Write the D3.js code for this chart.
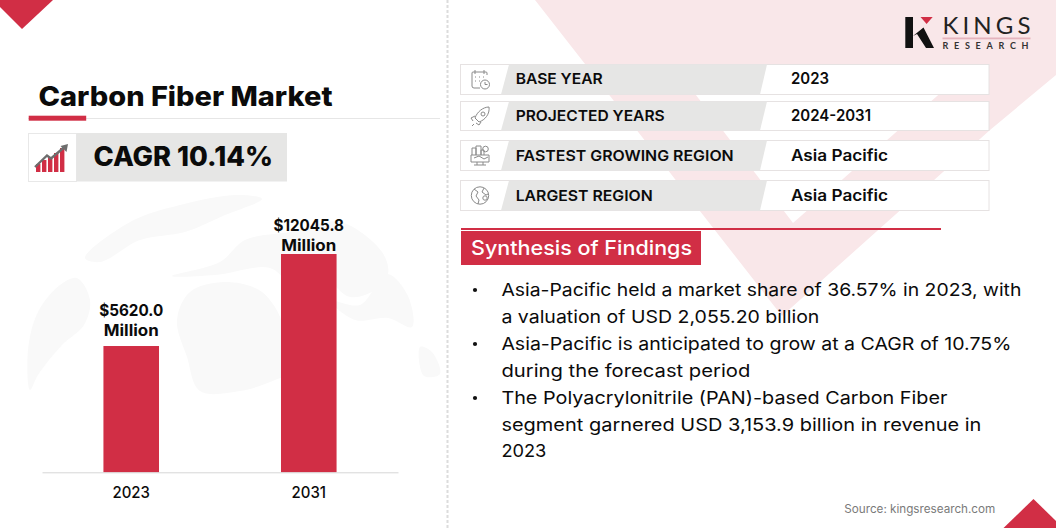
<!DOCTYPE html>
<html><head><meta charset="utf-8">
<script src="https://cdnjs.cloudflare.com/ajax/libs/d3/7.8.5/d3.min.js"></script>
<style>
html,body{margin:0;padding:0;background:#fff;overflow:hidden}
svg{display:block}
text{font-family:Inter,"Open Sans",sans-serif;fill:#0b0b0b}
</style></head><body>
<script>
// ---- Chart data ----
const years = ["2023", "2031"];
const marketValues = [5620.0, 12045.8];
const valueLabels = ["$5620.0", "$12045.8"];
const valueUnit = "Million";
// The reference's bars are not proportional to zero; this lower bound reproduces its heights.
const valueDomain = [-3199, 12045.8];

// ---- Text content ----
const title = "Carbon Fiber Market";
const cagr = "CAGR 10.14%";
const rowLabels = ["BASE YEAR", "PROJECTED YEARS", "FASTEST GROWING REGION", "LARGEST REGION"];
const rowValues = ["2023", "2024-2031", "Asia Pacific", "Asia Pacific"];
const findingsTitle = "Synthesis of Findings";
const findingLines = [
  "Asia-Pacific held a market share of 36.57% in 2023, with",
  "a valuation of USD 2,055.20 billion",
  "Asia-Pacific is anticipated to grow at a CAGR of 10.75%",
  "during the forecast period",
  "The Polyacrylonitrile (PAN)-based Carbon Fiber",
  "segment garnered USD 3,153.9 billion in revenue in",
  "2023"
];
const source = "Source: kingsresearch.com";

// ---- Layout ----
const W = 1056, H = 528, RED = "#d12e45", GRAY = "#e6e6e5", PINK = "#f9e7e9";
const rowLabelWidths = [87, 149, 218, 137];
const rowValueWidths = [38, 80, 97, 97];
const rowTops = [64.5, 101.5, 140.5, 180.5];
const rowHeights = [30, 29, 30, 30];
const findingWidths = [520, 318, 510, 249, 446, 480, 45];
const findingBaselines = [296, 323, 350, 377, 404, 431, 457];
const bulletLines = [0, 2, 4];
const labelLift = [[30, 9.7], [23, 3]];
const labelWidths = [64, 70.5];

const svg = d3.select("body").append("svg").attr("width", W).attr("height", H).attr("viewBox", `0 0 ${W} ${H}`);
const poly = (g, pts, fill) => g.append("polygon").attr("points", pts.map(p => p.join(",")).join(" ")).attr("fill", fill);
function label(g, str, x, y, size, weight, width, opts = {}) {
  const t = g.append("text").attr("x", x).attr("y", y).attr("font-size", size).attr("font-weight", weight).text(str);
  if (width) t.attr("textLength", width).attr("lengthAdjust", opts.adjust || "spacingAndGlyphs");
  if (opts.anchor) t.attr("text-anchor", opts.anchor);
  if (opts.fill) t.style("fill", opts.fill);
  if (opts.family) t.style("font-family", opts.family);
  return t;
}

// ---- Background ----
const bg = svg.append("g");
poly(bg, [[535,0],[1056,0],[1056,75],[990,130],[782,316]], PINK);
poly(bg, [[680,74],[793,223],[962,74]], "#fff");
poly(bg, [[0,0],[53,0],[22,29],[0,7]], RED);
poly(bg, [[1003.5,528],[1033.5,499],[1056,521],[1056,528]], RED);
bg.append("line").attr("x1",447.5).attr("x2",447.5).attr("y1",0).attr("y2",H)
  .attr("stroke","#dcdcdc").attr("stroke-width",2).attr("stroke-dasharray","3 2");

// faint world map behind the chart
const mapShapes = [
  [[30,390],[28,350],[38,312],[60,285],[77,278],[90,300],[84,325],[62,345],[38,375]],
  [[85,258],[130,222],[180,205],[237,195],[262,199],[225,215],[185,232],[140,240],[100,262]],
  [[172,276],[220,262],[245,240],[290,232],[340,222],[382,252],[388,274],[375,290],[350,297],[325,280],[296,288],[270,268],[215,275]],
  [[187,357],[177,320],[190,292],[225,282],[262,292],[283,325],[282,346],[297,368],[275,380],[240,391],[200,391]],
  [[330,300],[360,305],[387,274],[408,296],[412,327],[388,318],[355,320]],
  [[420,347],[432,352],[440,374],[424,376]]
];
const mapG = svg.append("g");
mapShapes.forEach(s => mapG.append("path").attr("d", d3.line().curve(d3.curveCatmullRomClosed.alpha(.5))(s)).attr("fill", "#f9f9f9"));

// ---- Left: title and CAGR ----
const left = svg.append("g");
label(left, title, 38.5, 106, 27, 800, 294);
left.append("line").attr("x1",28).attr("x2",440).attr("y1",118.5).attr("y2",118.5).attr("stroke","#e6e6e6");
left.append("rect").attr("x",28.7).attr("y",115.7).attr("width",57.5).attr("height",5).attr("fill",RED);
left.append("rect").attr("x",28.5).attr("y",133.5).attr("width",48).attr("height",48).attr("fill","#fff").attr("stroke","#e8e8e8");
left.append("rect").attr("x",76.5).attr("y",133).attr("width",210.5).attr("height",48.5).attr("fill",GRAY);
label(left, cagr, 93.5, 165.5, 26.5, 800, 179.5);
// CAGR icon
[8,12,15,19,24].forEach((h,i) =>
  left.append("rect").attr("x",36+i*6).attr("y",172-h).attr("width",4.4).attr("height",h).attr("fill",RED));
left.append("path").attr("d","M35 167 L47 155.5 L51 158.5 L64.5 147").attr("fill","none").attr("stroke","#6d6d6d").attr("stroke-width",2.4);
poly(left, [[68,144],[66.5,152],[60.5,146]], "#6d6d6d");

// ---- Bar chart (drawn through D3 scales and axis) ----
const axisLeft = 42, axisRight = 398, axisY = 472.3, barTop = 254;
const x = d3.scaleBand().domain(years).range([axisLeft, axisRight]).paddingInner(.687).paddingOuter(.346);
const y = d3.scaleLinear().domain(valueDomain).range([axisY, barTop]);
const zero = y(valueDomain[0]);
const chart = svg.append("g");
chart.selectAll("rect.bar").data(years).join("rect").attr("class","bar")
  .attr("x", d => x(d)).attr("width", x.bandwidth())
  .attr("y", (d,i) => y(marketValues[i])).attr("height", (d,i) => zero - y(marketValues[i]))
  .attr("fill", RED);
const axis = chart.append("g").attr("transform", `translate(0,${axisY})`)
  .call(d3.axisBottom(x).tickSize(0).tickPadding(15));
axis.select(".domain").attr("stroke","#d6d6d6").attr("stroke-width",1);
axis.selectAll("text").attr("font-size",15.5).attr("font-weight",500).style("font-family","Inter,sans-serif")
  .attr("textLength",(d,i)=>[37.5,34.5][i]).attr("lengthAdjust","spacingAndGlyphs");
const labelsG = chart.selectAll("g.val").data(years).join("g").attr("class","val");
labelsG.append("text").attr("text-anchor","middle").attr("font-size",16).attr("font-weight",700)
  .attr("x", d => x(d)+x.bandwidth()/2).attr("y", (d,i) => y(marketValues[i]) - labelLift[i][0])
  .attr("textLength",(d,i)=>labelWidths[i]).attr("lengthAdjust","spacingAndGlyphs")
  .text((d,i) => valueLabels[i]);
labelsG.append("text").attr("text-anchor","middle").attr("font-size",16).attr("font-weight",700)
  .attr("x", d => x(d)+x.bandwidth()/2).attr("y", (d,i) => y(marketValues[i]) - labelLift[i][1])
  .attr("textLength",55).attr("lengthAdjust","spacingAndGlyphs")
  .text(valueUnit);

// ---- Logo ----
const logo = svg.append("g");
logo.append("rect").attr("x",905.3).attr("y",17).attr("width",7.7).attr("height",31).attr("fill","#111");
poly(logo, [[913,36],[923.5,27.5],[934,48],[926,48],[917,34]], "#111");
poly(logo, [[920.5,17],[932.7,17],[926.6,24]], RED);
label(logo, "KINGS", 942.5, 34.3, 24, 400, 88, {family:"Lato,sans-serif", fill:"#222", adjust:"spacing"});
logo.append("rect").attr("x",942.5).attr("y",37.5).attr("width",88).attr("height",1.8).attr("fill","#e5b4bd");
label(logo, "RESEARCH", 942.5, 48.6, 9, 700, 86, {family:"Lato,sans-serif", fill:"#333", adjust:"spacing"});

// ---- Info rows ----
const rows = svg.append("g");
rowLabels.forEach((lab, i) => {
  const t = rowTops[i], h = rowHeights[i];
  rows.append("rect").attr("x",460.5).attr("y",t).attr("width",528.5).attr("height",h).attr("fill","#fff").attr("stroke","#e6e2e2");
  poly(rows, [[509,t],[767,t],[760,t+h],[501,t+h]], GRAY);
  const base = [84.3,121,161,201][i];
  label(rows, lab, 515.7, base, 14.8, 600, rowLabelWidths[i]);
  label(rows, rowValues[i], 791, base, 15.5, 600, rowValueWidths[i]);
});
// row icons
const ic = rows.append("g").attr("fill","none").attr("stroke","#8a8a8a").attr("stroke-width",1);
// calendar
ic.append("path").attr("d","M487 75 V73 Q487 72 486 72 H473 Q472 72 472 73 V86 Q472 88 474 88 H480 M475 70 V74 M484 70 V74");
ic.append("circle").attr("cx",485).attr("cy",84.5).attr("r",4.5);
ic.append("path").attr("d","M485 82 V84.5 H487.5 M475 77 h1 M479 77 h1 M483 77 h1 M475 81 h1 M479 81 h1");
// rocket
ic.append("path").attr("d","M489 107 C483 107 477 112 475 118 L479 122 C485 120 490 114 489 107 Z M475 116 L471 118 L473 121 M481 122 L479 125 L476 123 M474 124 L472 126");
ic.append("circle").attr("cx",483).attr("cy",114).attr("r",2);
// city/region
ic.append("path").attr("d","M472 155 V148 H476 V155 M476 155 V146 H481 V155 M481 155 V150 H484 V155 M471 155 H489 V162 H471 Z M477 162 V165 M483 162 V165 M474 165 H486 M474 158 L479 156 L484 159 L488 157");
ic.append("circle").attr("cx",485.5).attr("cy",149).attr("r",2.8);
// globe
ic.append("circle").attr("cx",480).attr("cy",195.5).attr("r",8.7);
ic.append("path").attr("d","M474 189 L478 192 L476 196 L479 200 L478 204 M484 188 L482 192 L486 195 L488 194");
ic.append("circle").attr("cx",485).attr("cy",198).attr("r",2.2);

// ---- Findings ----
const f = svg.append("g");
f.append("rect").attr("x",461).attr("y",228).attr("width",480).attr("height",2).attr("fill",RED);
f.append("rect").attr("x",461).attr("y",231).attr("width",240).attr("height",34).attr("fill",RED);
label(f, findingsTitle, 471, 255, 20, 500, 221, {fill:"#fff"});
findingLines.forEach((l,i) => label(f, l, 501.4, findingBaselines[i], 17.6, 400, findingWidths[i]));
bulletLines.forEach(i => f.append("circle").attr("cx",475).attr("cy",findingBaselines[i]-6).attr("r",2.1).attr("fill","#111"));
label(f, source, 844.3, 512.7, 11.4, 400, 151, {fill:"#7a7a7a"});
</script>
</body></html>
